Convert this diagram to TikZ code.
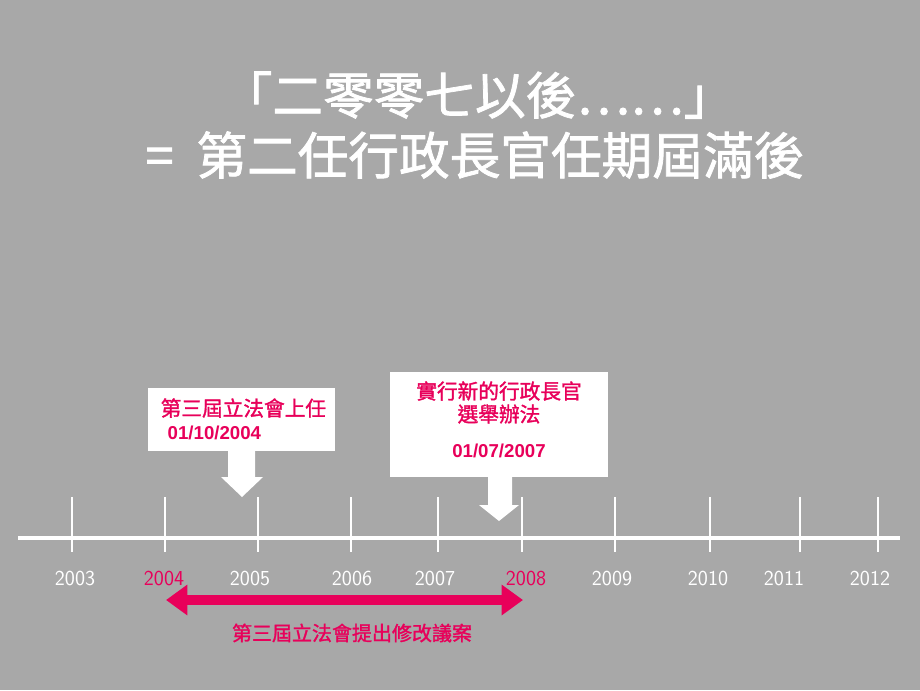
\documentclass[tikz,border=0pt]{standalone}
\usepackage{fontspec}
\setmainfont{Liberation Sans}
\newfontfamily\cjk{Noto Sans CJK TC}[AutoFakeBold=1.5]
\usetikzlibrary{arrows.meta,shapes.arrows}
\definecolor{bg}{HTML}{A8A8A8}
\definecolor{pk}{HTML}{E8005A}
\begin{document}
\begin{tikzpicture}[x=0.75pt,y=-0.75pt,
  tick/.style={white,line width=2.2pt},
  yr/.style={font=\fontsize{16}{16}\selectfont\sffamily,white},
  yrp/.style={yr,pk}]
\fill[bg] (0,0) rectangle (920,690);
\useasboundingbox (0,0) rectangle (920,690);
\node[white,font=\cjk\bfseries\fontsize{38}{42}\selectfont] (t1) at (478,95) {「二零零七以後……」};
\node[white,font=\cjk\bfseries\fontsize{38}{42}\selectfont] (t2) at (475,155) {=\ \ 第二任行政長官任期屆滿後};
% boxes
\fill[white] (148,388) rectangle (335,451);
\node[pk,font=\cjk\bfseries\fontsize{15.5}{17}\selectfont,anchor=west] (b1a) at (156,408) {第三屆立法會上任};
\node[pk,font=\bfseries\fontsize{14}{15}\selectfont,anchor=west] (b1b) at (163,433) {01/10/2004};
\fill[white] (390,372) rectangle (608,477);
\node[pk,font=\cjk\bfseries\fontsize{15.5}{17}\selectfont] (b2a) at (499,391) {實行新的行政長官};
\node[pk,font=\cjk\bfseries\fontsize{15.5}{17}\selectfont] (b2b) at (499,414) {選舉辦法};
\node[pk,font=\bfseries\fontsize{14}{15}\selectfont] (b2c) at (499,451) {01/07/2007};
% block arrows
\fill[white] (228,451) -- (255,451) -- (255,477) -- (263,477) -- (242,497) -- (221,477) -- (228,477) -- cycle;
\fill[white] (488,477) -- (512,477) -- (512,505) -- (519,505) -- (499,521) -- (479,505) -- (488,505) -- cycle;
% timeline
\draw[white,line width=2.5pt] (18,538) -- (900,538);
\foreach \x in {72,165,258,351,438,522,615,710,800,878}
  \draw[tick] (\x,497) -- (\x,552);
\node[yr] at (75,578) {2003};
\node[yrp] at (164,578) {2004};
\node[yr] at (250,578) {2005};
\node[yr] at (352,578) {2006};
\node[yr] at (435,578) {2007};
\node[yrp] at (526,578) {2008};
\node[yr] at (612,578) {2009};
\node[yr] at (708,578) {2010};
\node[yr] at (784,578) {2011};
\node[yr] at (870,578) {2012};
\coordinate (a1) at (166,600);
\coordinate (a2) at (523,600);
\draw[pk,line width=7pt,{Triangle[length=16pt,width=22pt]}-{Triangle[length=16pt,width=22pt]}] (a1) -- (a2);
\node[pk,font=\cjk\bfseries\fontsize{15}{17}\selectfont] (lab) at (352,633) {第三屆立法會提出修改議案};
\end{tikzpicture}
\end{document}
